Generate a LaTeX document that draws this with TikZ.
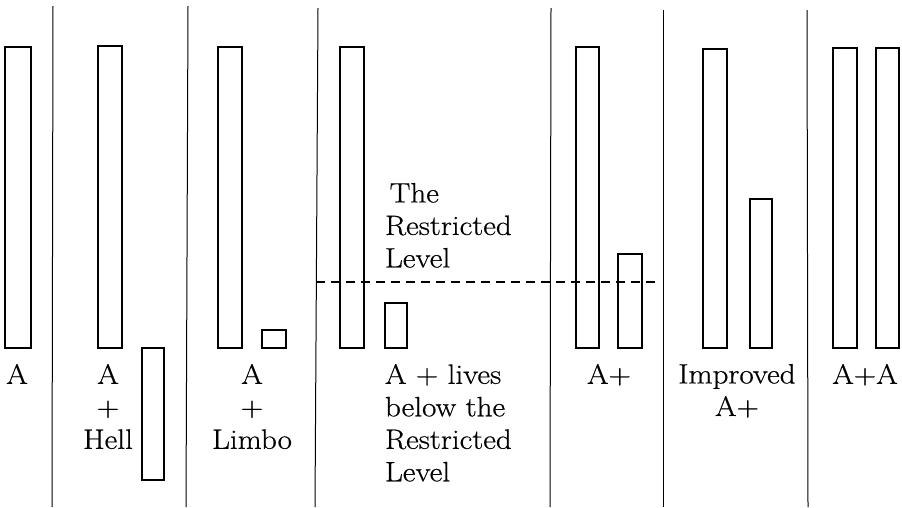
\documentclass[tikz,border=0pt]{standalone}
\usepackage{fontspec}
\setmainfont{Latin Modern Roman}[FakeStretch=1.11,FakeBold=0.6]
\begin{document}
\begin{tikzpicture}[x=1pt,y=-1pt,
  bar/.style={draw,line width=2pt,inner sep=0pt,outer sep=0pt,anchor=north west},
  divider/.style={line width=1pt},
  level/.style={dashed,line width=1.2pt,dash pattern=on 9pt off 6pt},
  lbl/.style={inner sep=0pt,outer sep=0pt,font=\fontsize{28}{32.5}\selectfont}
]
\useasboundingbox (0,0) rectangle (902,507);
% dividers
\coordinate (d1t) at (53,6);   \coordinate (d1b) at (52,507);
\coordinate (d2t) at (188,6);  \coordinate (d2b) at (186,507);
\coordinate (d3t) at (318,8);  \coordinate (d3b) at (315,507);
\coordinate (d4t) at (551,8);  \coordinate (d4b) at (550,507);
\coordinate (d5t) at (663,10); \coordinate (d5b) at (663,507);
\coordinate (d6t) at (807,10); \coordinate (d6b) at (808,507);
\foreach \i in {1,...,6} \draw[divider] (d\i t) -- (d\i b);
% bars
\node[bar,minimum width=26pt,minimum height=301pt] (b1) at (5,47) {};
\node[bar,minimum width=24pt,minimum height=302pt] (b2) at (98,46) {};
\node[bar,minimum width=22pt,minimum height=132pt] (hell) at (142,348) {};
\node[bar,minimum width=24pt,minimum height=301pt] (b3) at (218,47) {};
\node[bar,minimum width=24pt,minimum height=18pt] (limbo) at (262,330) {};
\node[bar,minimum width=24pt,minimum height=301pt] (b4) at (340,47) {};
\node[bar,minimum width=22pt,minimum height=45pt] (below) at (385,303) {};
\node[bar,minimum width=23pt,minimum height=301pt] (b5) at (576,47) {};
\node[bar,minimum width=24pt,minimum height=94pt] (aplus) at (618,254) {};
\node[bar,minimum width=24pt,minimum height=299pt] (b6) at (703,49) {};
\node[bar,minimum width=22pt,minimum height=149pt] (impr) at (750,199) {};
\node[bar,minimum width=24pt,minimum height=300pt] (b7) at (833,48) {};
\node[bar,minimum width=23pt,minimum height=300pt] (b8) at (876,48) {};
% restricted level
\coordinate (lvlL) at (316,282);
\coordinate (lvlR) at (660,282);
\draw[level] (lvlL) -- (lvlR);
% labels
\node[lbl,anchor=north] (t1) at (17,364) {A};
\node[lbl,anchor=north,align=center] (t2) at (108,364) {A\\+\\Hell};
\node[lbl,anchor=north,align=center] (t3) at (252,364) {A\\+\\Limbo};
\node[lbl,anchor=north west,align=left] (t4) at (385,183) {\,The\\Restricted\\Level};
\node[lbl,anchor=north west,align=left] (t5) at (385,364) {A + lives\\below the\\Restricted\\Level};
\node[lbl,anchor=north] (t6) at (609,364) {A+};
\node[lbl,anchor=north,align=center] (t7) at (737,364) {Improved\\A+};
\node[lbl,anchor=north] (t8) at (865,364) {A+A};
\end{tikzpicture}
\end{document}
